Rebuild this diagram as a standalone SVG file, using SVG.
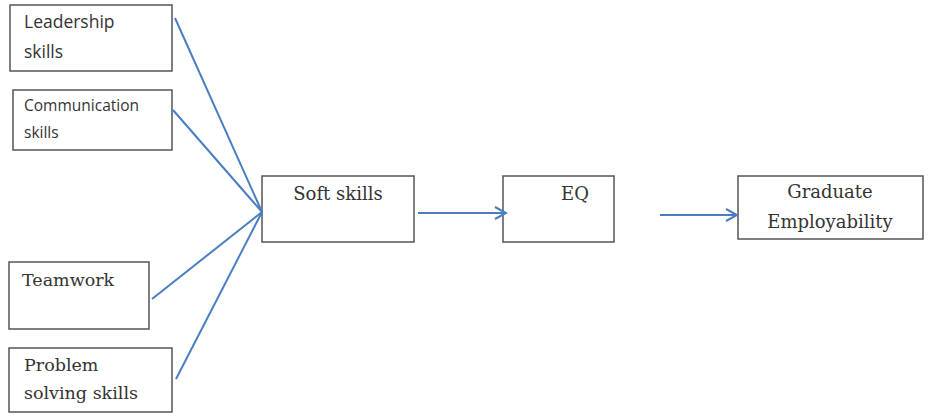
<svg xmlns="http://www.w3.org/2000/svg" width="942" height="419" viewBox="0 0 942 419">
<defs>
<style>
.box{fill:#fff;stroke:#555;stroke-width:1.5}
.sans{font-family:"Open Sans","Liberation Sans",sans-serif;fill:#333}
.serif{font-family:"DejaVu Serif","Liberation Serif",serif;fill:#333}
.con{stroke:#4a7ec2;stroke-width:2;fill:none}
</style>
<marker id="arr" markerWidth="14" markerHeight="14" refX="12" refY="7" orient="auto" markerUnits="userSpaceOnUse">
<path d="M1,1 L12,7 L1,13" fill="none" stroke="#4a7ec2" stroke-width="2"/>
</marker>
</defs>
<rect width="942" height="419" fill="#fff"/>
<g id="leadership"><rect class="box" x="10" y="5" width="162" height="66"/>
<text class="sans" x="24" y="28" font-size="17.5">Leadership</text>
<text class="sans" x="24" y="58" font-size="17.5">skills</text></g>
<g id="communication"><rect class="box" x="13" y="90" width="159" height="60"/>
<text class="sans" x="24" y="111" font-size="15.5">Communication</text>
<text class="sans" x="24" y="138" font-size="15.5">skills</text></g>
<g id="teamwork"><rect class="box" x="9" y="262" width="140" height="67"/>
<text class="serif" x="22" y="286" font-size="17.5">Teamwork</text></g>
<g id="problem"><rect class="box" x="9" y="348" width="163" height="64"/>
<text class="serif" x="24" y="371" font-size="17.5">Problem</text>
<text class="serif" x="24" y="399" font-size="17.5">solving skills</text></g>
<g id="soft"><rect class="box" x="262" y="176" width="152" height="66"/>
<text class="serif" x="338" y="200" font-size="18" text-anchor="middle">Soft skills</text></g>
<g id="eq"><rect class="box" x="503" y="176" width="111" height="66"/>
<text class="serif" x="575" y="200" font-size="18" text-anchor="middle">EQ</text></g>
<g id="graduate"><rect class="box" x="738" y="176" width="185" height="63"/>
<text class="serif" x="830" y="198" font-size="18" text-anchor="middle">Graduate</text>
<text class="serif" x="830" y="228" font-size="18" text-anchor="middle">Employability</text></g>
<g id="connectors">
<line class="con" x1="175" y1="18" x2="262" y2="212"/>
<line class="con" x1="173" y1="110" x2="262" y2="212"/>
<line class="con" x1="152" y1="299" x2="262" y2="212"/>
<line class="con" x1="176" y1="379" x2="262" y2="212"/>
<line class="con" x1="418" y1="213" x2="506" y2="213" marker-end="url(#arr)"/>
<line class="con" x1="660" y1="215" x2="737" y2="215" marker-end="url(#arr)"/>
</g>
</svg>
